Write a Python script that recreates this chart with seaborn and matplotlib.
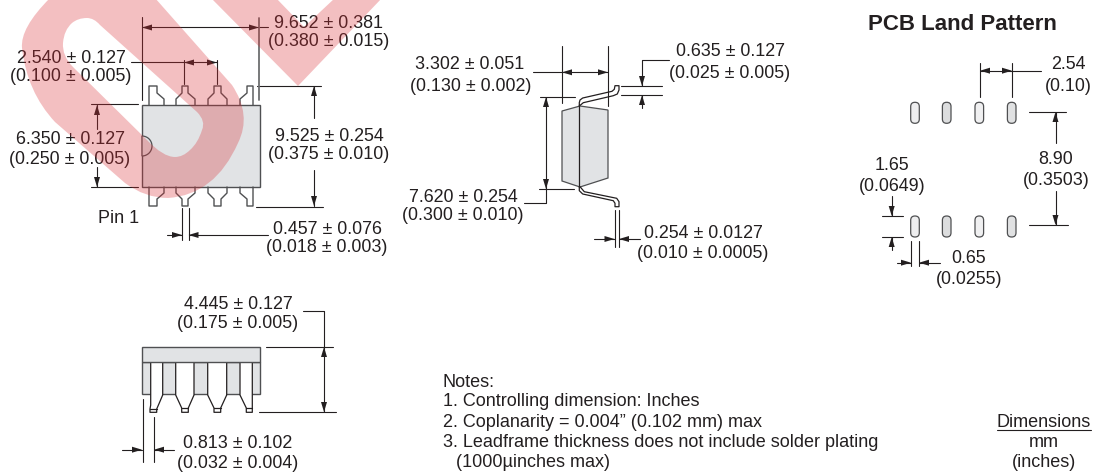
import matplotlib
matplotlib.use("Agg")
import matplotlib.pyplot as plt
from matplotlib.patches import FancyBboxPatch, PathPatch, Rectangle, Wedge
from matplotlib.path import Path
import pandas as pd
import seaborn as sns

# -------------------------
# Data
# -------------------------
body_top = [142, 105, 118, 82]
pin_notch = [142, 146, 10]
top_leads = [
    [(149, 105), (149, 86), (157, 86), (157, 93), (164, 99), (164, 105)],
    [(176, 105), (176, 99), (182, 93), (182, 86), (188, 86), (188, 93), (195, 99), (195, 105)],
    [(208, 105), (208, 99), (214, 93), (214, 86), (221, 86), (221, 93), (227, 99), (227, 105)],
    [(240, 105), (240, 99), (247, 93), (247, 86), (253, 86), (253, 105)],
    [(149, 187), (149, 206), (157, 206), (157, 199), (164, 193), (164, 187)],
    [(176, 187), (176, 193), (182, 199), (182, 206), (188, 206), (188, 199), (195, 193), (195, 187)],
    [(208, 187), (208, 193), (214, 199), (214, 206), (221, 206), (221, 199), (227, 193), (227, 187)],
    [(240, 187), (240, 193), (247, 199), (247, 206), (253, 206), (253, 187)],
]

side_body = [(562, 111), (580, 106), (608, 110), (608, 178), (580, 187), (562, 181)]
side_leads = [
    [(579.3, 106), (583.3, 102.7), (613.3, 95.7), (617.3, 94), (619, 90), (619, 85.7), (615, 85.7),
     (614.3, 89.3), (612, 91.3), (582.7, 98), (580, 100), (579.3, 102.7), (579.3, 106)],
    [(579.3, 186.7), (579.3, 190.7), (582.7, 194), (613.3, 200.7), (615, 203.3), (615, 206.7), (619, 206.7),
     (619, 201.7), (616.7, 198.3), (584.3, 191.7), (580, 186.7)],
    [(579.3, 106), (579.3, 187)],
]

end_bar = [142.3, 347.3, 117.7, 15]
end_base = [142.3, 362.3, 117.7, 31.7]
end_leads = [
    [(150.7, 362.3), (150.7, 405), (150, 409), (150, 412.3), (156.7, 412.3), (156.7, 409), (159.3, 403), (162.7, 395), (162.7, 362.3)],
    [(175.7, 362.3), (175.7, 395), (181.7, 408), (181.7, 412.3), (188.3, 412.3), (188.3, 408), (194, 395), (194, 362.3)],
    [(207.7, 362.3), (207.7, 395), (214, 408), (214, 412.3), (220.7, 412.3), (220.7, 408), (226.7, 395), (226.7, 362.3)],
    [(240, 362.3), (240, 395), (246.3, 408), (246.3, 412.3), (252.3, 412.3), (252.3, 362.3)],
]
end_tips = [
    [(150, 409), (156.7, 409)], [(181.7, 408), (188.3, 408)],
    [(214, 408), (220.7, 408)], [(246.3, 408), (252.3, 408)],
]

pad_x = [915, 946.7, 979.3, 1011.7]
pad_y = [102.3, 216]
pad_fill = ['#eeeeef', '#dcddde', '#f0f0f1', '#e0e1e2']

dim_lines = [
    # top view
    [(142, 17), (142, 100)], [(142, 27.5), (268, 27.5)],
    [(131, 62.5), (217, 62.5)], [(184, 60), (184, 84)], [(217, 60), (217, 84)],
    [(257, 86), (321, 86)], [(256, 206.5), (323, 206.5)], [(314, 86), (314, 118)], [(314, 170), (314, 206)],
    [(91, 104.5), (138, 104.5)], [(91, 187.5), (138, 187.5)], [(97, 105), (97, 129)], [(97, 167), (97, 187)],
    [(182, 208), (182, 240)], [(188.5, 208), (188.5, 240)], [(167, 235), (182, 235)], [(188.5, 235), (268, 235)],
    # side view
    [(562, 46.5), (562, 103)], [(608, 46), (608, 106)], [(533, 72.3), (608, 72.3)],
    [(540, 97), (575, 97)], [(539, 189), (574, 189)], [(546, 97), (546, 203), (524, 203)],
    [(669, 60), (642, 60), (642, 86)], [(621, 86), (662, 86)], [(621, 95), (662, 95)], [(642, 95), (642, 108)],
    [(614.7, 210), (614.7, 247)], [(618.7, 210), (618.7, 247)], [(594, 239), (614.5, 239)], [(619, 239), (640, 239)],
    # land pattern
    [(979.7, 63), (979.7, 97)], [(1012, 63), (1012, 97)], [(979.7, 70.7), (1041, 70.7)],
    [(1029, 111.7), (1066, 111.7)], [(1029, 225.3), (1068, 225.3)], [(1055.5, 112), (1055.5, 143)], [(1055.5, 191), (1055.5, 225)],
    [(882, 216.3), (903, 216.3)], [(882, 237), (903, 237)], [(891.7, 196), (891.7, 216)], [(891.7, 237), (891.7, 250)],
    [(911, 241), (911, 266)], [(919, 241), (919, 266)], [(897, 262.7), (911, 262.7)], [(919, 262.7), (940, 262.7)],
    # end view
    [(266, 347), (333, 347)], [(259, 412.3), (336, 412.3)], [(303, 311), (324, 311), (324, 412)],
    [(142.5, 399), (142.5, 462)], [(153.5, 417), (153.5, 462)], [(122, 449.7), (142, 449.7)], [(154, 449.7), (174, 449.7)],
    # underline
    [(997, 430), (1091, 430)],
]
# this one comes out heavier and greyer in the picture
heavy_lines = [[(259, 18), (259, 100)]]

# arrow tip x, tip y, direction it points
arrow_tips = [
    (142, 27.5, 'l'), (259, 27.5, 'r'), (184, 62.5, 'l'), (217, 62.5, 'r'), (314, 86, 'u'), (314, 206, 'd'),
    (97, 105, 'u'), (97, 187, 'd'), (182, 235, 'r'), (188.5, 235, 'l'),
    (562, 72.3, 'l'), (608, 72.3, 'r'), (546, 97, 'u'), (546, 189, 'd'), (642, 86, 'd'), (642, 95, 'u'),
    (614.5, 239, 'r'), (619, 239, 'l'),
    (980, 70.7, 'l'), (1012, 70.7, 'r'), (1055.5, 112, 'u'), (1055.5, 225, 'd'), (891.7, 216, 'd'), (891.7, 237, 'u'),
    (911, 262.7, 'r'), (919, 262.7, 'l'),
    (324, 347, 'u'), (324, 412, 'd'), (142, 449.7, 'r'), (154, 449.7, 'l'),
]

dim_labels = [
    ("9.652 ± 0.381", 328, 22), ("(0.380 ± 0.015)", 329, 40),
    ("2.540 ± 0.127", 71, 57), ("(0.100 ± 0.005)", 71, 75),
    ("6.350 ± 0.127", 70, 138), ("(0.250 ± 0.005)", 70, 158),
    ("9.525 ± 0.254", 329, 135), ("(0.375 ± 0.010)", 329, 153),
    ("Pin 1", 118.5, 217),
    ("0.457 ± 0.076", 327, 228), ("(0.018 ± 0.003)", 327, 246),
    ("3.302 ± 0.051", 470, 63), ("(0.130 ± 0.002)", 470.5, 85),
    ("0.635 ± 0.127", 730, 50), ("(0.025 ± 0.005)", 730, 72),
    ("7.620 ± 0.254", 463, 196), ("(0.300 ± 0.010)", 463, 214),
    ("0.254 ± 0.0127", 703, 232), ("(0.010 ± 0.0005)", 703, 252),
    ("2.54", 1068, 63), ("(0.10)", 1068, 85),
    ("8.90", 1056, 158), ("(0.3503)", 1056, 179),
    ("1.65", 892, 164), ("(0.0649)", 892, 185),
    ("0.65", 969, 257), ("(0.0255)", 969, 278),
    ("4.445 ± 0.127", 238, 303), ("(0.175 ± 0.005)", 238, 322),
    ("0.813 ± 0.102", 238, 442), ("(0.032 ± 0.004)", 238, 462),
]
note_lines = [
    ("Notes:", 443, 381),
    ("1. Controlling dimension: Inches", 443, 400),
    ("2. Coplanarity = 0.004” (0.102 mm) max", 443, 421),
    ("3. Leadframe thickness does not include solder plating", 443, 441),
    ("(1000µinches max)", 456, 461),
]
legend_lines = [("Dimensions", 1044, 421), ("mm", 1044, 441), ("(inches)", 1044, 461)]

# watermark outline
mark_verts = [
    (50, -2), (20, 28), (22, 48), (27, 92), (55, 122), (125, 183), (145, 198), (168, 198),
    (215, 195), (238, 143), (252, 115), (232, 85), (155, -2), (50, -2),
    (100, 25), (197, 112), (206, 121), (202, 130), (198, 143), (190, 150), (183, 157), (175, 157), (163, 157), (147, 140),
    (73, 67), (62, 56), (63, 43), (64, 30), (72, 23), (78, 18), (87, 18), (94, 18), (100, 25),
    (211, -2), (298, 86), (382, -2), (335, -2), (304, 27), (276, -2), (211, -2),
]
mark_codes = [
    Path.MOVETO, Path.CURVE3, Path.CURVE3, Path.CURVE3, Path.CURVE3, Path.LINETO, Path.CURVE3, Path.CURVE3,
    Path.CURVE3, Path.CURVE3, Path.CURVE3, Path.CURVE3, Path.LINETO, Path.LINETO,
    Path.MOVETO, Path.LINETO, Path.CURVE3, Path.CURVE3, Path.CURVE3, Path.CURVE3, Path.CURVE3, Path.CURVE3, Path.CURVE3, Path.CURVE3,
    Path.LINETO, Path.CURVE3, Path.CURVE3, Path.CURVE3, Path.CURVE3, Path.CURVE3, Path.CURVE3, Path.CURVE3, Path.CURVE3,
    Path.MOVETO, Path.LINETO, Path.LINETO, Path.LINETO, Path.LINETO, Path.LINETO, Path.LINETO,
]

# -------------------------
# Styles
# -------------------------
sns.set_theme(style='white')
plt.rcParams['font.family'] = ['Liberation Sans']
INK = '#231f20'
EDGE = '#4f5052'
GREY = '#e1e3e5'
TEXT_SIZE = 12.9
TEXT_DROP = 1.5  # va='center' sits a bit high for these labels


def to_frame(polylines):
    rows = []
    for i, line in enumerate(polylines):
        for j, (x, y) in enumerate(line):
            rows.append({'seg': i, 'order': j, 'x': x, 'y': y})
    return pd.DataFrame(rows)


def draw_lines(ax, polylines, color, width, z):
    sns.lineplot(data=to_frame(polylines), x='x', y='y', units='seg', estimator=None, sort=False,
                 color=color, linewidth=width, legend=False, ax=ax, zorder=z)


def draw_arrow(ax, x, y, way, length=10, half=3):
    dx, dy = {'l': (1, 0), 'r': (-1, 0), 'u': (0, 1), 'd': (0, -1)}[way]
    bx, by = x + dx * length, y + dy * length
    ax.fill([x, bx - dy * half, bx + dy * half], [y, by + dx * half, by - dx * half],
            color=INK, lw=0, zorder=4)


# -------------------------
# Drawing
# -------------------------
fig = plt.figure(figsize=(10.95, 4.73), dpi=100)
ax = fig.add_axes([0, 0, 1, 1])

ax.add_patch(Rectangle(body_top[:2], body_top[2], body_top[3], fc=GREY, ec=EDGE, lw=1.0, zorder=1))
ax.add_patch(Wedge(pin_notch[:2], pin_notch[2], -90, 90, fc=GREY, ec=EDGE, lw=0.9, zorder=1.5))
ax.fill([p[0] for p in side_body], [p[1] for p in side_body], fc=GREY, ec=EDGE, lw=0.9, zorder=1)
ax.add_patch(Rectangle(end_base[:2], end_base[2], end_base[3], fc=GREY, ec=EDGE, lw=1.0, zorder=1))
ax.add_patch(Rectangle(end_bar[:2], end_bar[2], end_bar[3], fc=GREY, ec=EDGE, lw=1.0, zorder=2.5))
for lead in end_leads:
    ax.fill([p[0] for p in lead], [p[1] for p in lead], fc='white', lw=0, zorder=1.5)

for i, cx in enumerate(pad_x):
    for top in pad_y:
        ax.add_patch(FancyBboxPatch((cx - 4.3, top), 8.6, 21, boxstyle='round,pad=0,rounding_size=4.2',
                                    fc=pad_fill[i], ec=EDGE, lw=0.9, zorder=2))

draw_lines(ax, top_leads, EDGE, 1.0, 2)
draw_lines(ax, side_leads, INK, 0.9, 2)
draw_lines(ax, end_leads + end_tips, INK, 0.9, 2)
draw_lines(ax, dim_lines, INK, 0.8, 3)
draw_lines(ax, heavy_lines, '#6d6e70', 1.3, 3)

for x, y, way in arrow_tips:
    draw_arrow(ax, x, y, way)

for label, x, y in dim_labels:
    ax.text(x, y + TEXT_DROP, label, ha='center', va='center', fontsize=TEXT_SIZE, color=INK, zorder=4)
for label, x, y in note_lines:
    ax.text(x, y + TEXT_DROP, label, ha='left', va='center', fontsize=13, color=INK, zorder=4)
for label, x, y in legend_lines:
    ax.text(x, y + TEXT_DROP, label, ha='center', va='center', fontsize=13, color=INK, zorder=4)
ax.text(962, 23 + TEXT_DROP, "PCB Land Pattern", ha='center', va='center', fontsize=16, fontweight='bold', color=INK, zorder=4)

# red logo sits over everything, multiplied look
ax.add_patch(PathPatch(Path(mark_verts, mark_codes), fc='#da2d34', ec='none', alpha=0.3, zorder=6))

ax.set_xlim(0, 1095)
ax.set_ylim(473, 0)
ax.set_xlabel('')
ax.set_ylabel('')
ax.axis('off')

plt.savefig('out.png', dpi=100)
